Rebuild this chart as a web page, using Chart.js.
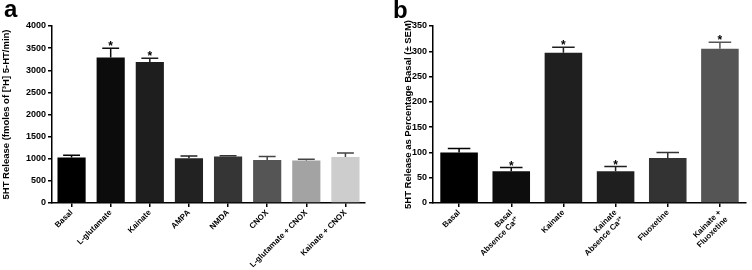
<!DOCTYPE html>
<html>
<head>
<meta charset="utf-8">
<script src="https://cdn.jsdelivr.net/npm/chart.js@4.4.0/dist/chart.umd.min.js"></script>
<style>
  body { margin: 0; background: #fff; }
  #wrap { position: relative; width: 752px; height: 270px; }
  .box { position: absolute; top: 0; width: 376px; height: 270px; }
  .tag { position: absolute; font: bold 24px "Liberation Sans", Arial, sans-serif; color: #000; line-height: 1; }
</style>
</head>
<body>
<div id="wrap">
  <div class="box" style="left:0"><canvas id="chart-a" width="376" height="270"></canvas></div>
  <div class="box" style="left:376px"><canvas id="chart-b" width="376" height="270"></canvas></div>
  <div class="tag" style="left:4px;top:-3px">a</div>
  <div class="tag" style="left:393px;top:-2px">b</div>
</div>
<script>
// panel a
var labelsA = ['Basal', 'L-glutamate', 'Kainate', 'AMPA', 'NMDA', 'CNOX', 'L-glutamate + CNOX', 'Kainate + CNOX'];
var valuesA = [1030, 3290, 3185, 1010, 1050, 970, 960, 1040];
var semA = [50, 210, 85, 50, 20, 80, 30, 90];
var starsA = [false, true, true, false, false, false, false, false];

// panel b
var labelsB = ['Basal', ['Basal', 'Absence Ca\u00b2\u207a'], 'Kainate', ['Kainate', 'Absence Ca\u00b2\u207a'], 'Fluoxetine', ['Kainate +', 'Fluoxetine']];
var valuesB = [100, 63, 297, 63, 89, 305];
var semB = [8, 7, 11, 9, 11, 13];
var starsB = [false, true, true, true, false, true];

var colorsA = ['#000000', '#0c0c0c', '#1e1e1e', '#222222', '#353535', '#555555', '#a3a3a3', '#cdcdcd'];
var errColorsA = ['#000000', '#0c0c0c', '#1e1e1e', '#222222', '#353535', '#444444', '#444444', '#444444'];
var colorsB = ['#000000', '#0d0d0d', '#1f1f1f', '#1f1f1f', '#333333', '#555555'];

var FONT = '"Liberation Sans", Arial, sans-serif';

var errorBars = {
    id: 'errorBars',
    afterDatasetsDraw: function (chart, args, opts) {
        var ctx = chart.ctx;
        var y = chart.scales.y;
        var ds = chart.data.datasets[0];
        chart.getDatasetMeta(0).data.forEach(function (bar, i) {
            var top = y.getPixelForValue(ds.data[i] + opts.errors[i]);
            var cap = bar.width * 0.3;
            ctx.save();
            ctx.strokeStyle = opts.colors[i];
            ctx.lineWidth = 1.5;
            ctx.beginPath();
            ctx.moveTo(bar.x, bar.y);
            ctx.lineTo(bar.x, top);
            ctx.moveTo(bar.x - cap, top);
            ctx.lineTo(bar.x + cap, top);
            ctx.stroke();
            if (opts.stars[i]) {
                ctx.fillStyle = '#000';
                ctx.font = 'bold 12px ' + FONT;
                ctx.textAlign = 'center';
                ctx.textBaseline = 'alphabetic';
                ctx.fillText('*', bar.x, top + 2);
            }
            ctx.restore();
        });
    }
};

function makeChart(id, labels, values, colors, errs, errColors, stars, yMax, yStep, yTitle, pad, yWidth) {
    return new Chart(document.getElementById(id), {
        type: 'bar',
        data: {
            labels: labels,
            datasets: [{
                data: values,
                backgroundColor: colors,
                barPercentage: 0.9,
                categoryPercentage: 0.8
            }]
        },
        options: {
            responsive: false,
            animation: false,
            layout: { padding: pad },
            plugins: {
                legend: { display: false },
                tooltip: { enabled: false },
                errorBars: { errors: errs, colors: errColors, stars: stars }
            },
            scales: {
                x: {
                    grid: { display: true, drawOnChartArea: false, offset: false, color: '#000', lineWidth: 1.5, tickLength: 4 },
                    border: { color: '#000', width: 1.5 },
                    ticks: {
                        color: '#000', font: { family: FONT, size: 8, weight: 'bold' },
                        minRotation: 45, maxRotation: 45, autoSkip: false, padding: 1
                    },
                    afterFit: function (s) { s.height = 67; s.paddingLeft = 0; s.paddingRight = 0; }
                },
                y: {
                    min: 0, max: yMax,
                    grid: { display: true, drawOnChartArea: false, color: '#000', lineWidth: 1.5, tickLength: 4 },
                    border: { color: '#000', width: 1.5 },
                    ticks: {
                        stepSize: yStep, color: '#000', font: { family: FONT, size: 9, weight: 'bold' }, padding: 2,
                        callback: function (v) { return String(v); }
                    },
                    title: {
                        display: true, text: yTitle, color: '#000',
                        font: { family: FONT, size: 9.5, weight: 'bold' },
                        padding: { top: 1, bottom: 0 }
                    },
                    afterFit: function (s) { s.width = yWidth; }
                }
            }
        },
        plugins: [errorBars]
    });
}

makeChart('chart-a', labelsA, valuesA, colorsA, semA, errColorsA, starsA, 4000, 500,
    '5HT Release (fmoles of [\u00b3H] 5-HT/min)', { top: 26, left: 0, right: 11, bottom: 0 }, 52);
makeChart('chart-b', labelsB, valuesB, colorsB, semB, colorsB, starsB, 350, 50,
    '5HT Release as Percentage Basal (\u00b1 SEM)', { top: 26, left: 26, right: 6, bottom: 0 }, 31);
</script>
</body>
</html>
